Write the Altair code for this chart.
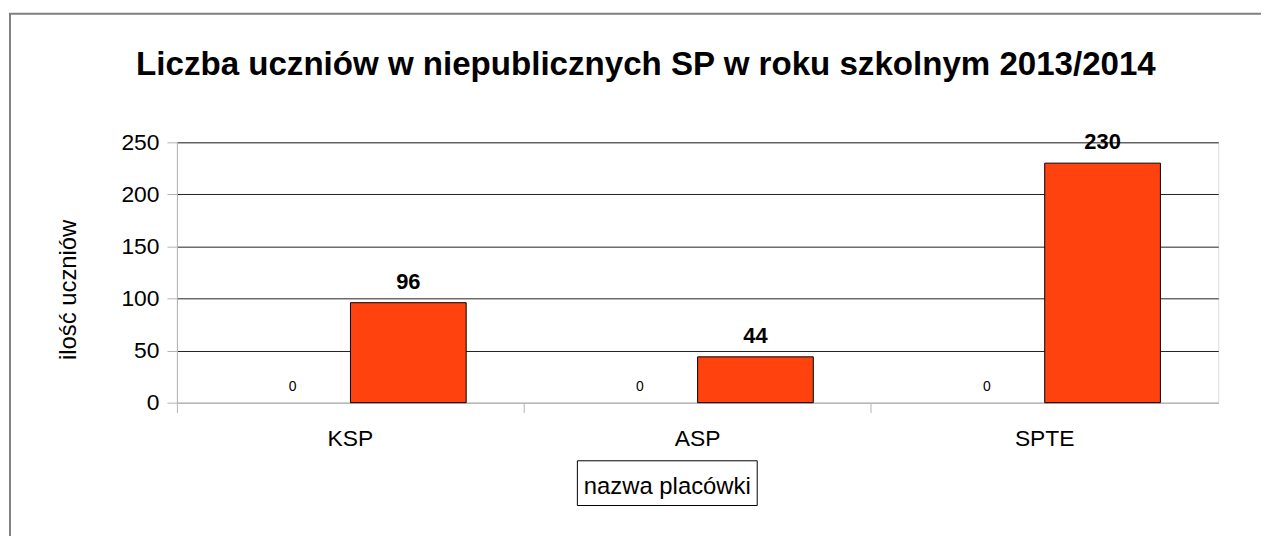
import altair as alt
import pandas as pd

categories = ["KSP", "ASP", "SPTE"]
series_names = ["Kolumna 1", "Kolumna 2"]
series1_values = [0, 0, 0]
series2_values = [96, 44, 230]
y_ticks = [0, 50, 100, 150, 200, 250]

rows = []
for c, v in zip(categories, series1_values):
    rows.append({"placowka": c, "seria": series_names[0], "liczba": v})
for c, v in zip(categories, series2_values):
    rows.append({"placowka": c, "seria": series_names[1], "liczba": v})
df = pd.DataFrame(rows)

FONT = "Liberation Sans"

x_enc = alt.X(
    "placowka:N",
    sort=categories,
    scale=alt.Scale(paddingInner=0, paddingOuter=0),
    axis=alt.Axis(
        title="nazwa placówki",
        labelAngle=0,
        labelFontSize=23,
        labelColor="black",
        labelFont=FONT,
        labelBaseline="alphabetic",
        labelPadding=33,
        tickSize=10,
        tickColor="#b3b3b3",
        domainColor="#b3b3b3",
        bandPosition=0,
        titleFontSize=24,
        titleFont=FONT,
        titleFontWeight="normal",
        titleColor="black",
        titleBaseline="alphabetic",
        titleX=493,
        titleY=91,
        grid=False,
    ),
)
xoff_enc = alt.XOffset(
    "seria:N", sort=series_names, scale=alt.Scale(paddingOuter=0.5, paddingInner=0)
)
y_enc = alt.Y(
    "liczba:Q",
    scale=alt.Scale(domain=[0, 250], nice=False),
    axis=alt.Axis(
        title="ilość uczniów",
        values=y_ticks,
        labelFontSize=23,
        labelColor="black",
        labelFont=FONT,
        labelPadding=8,
        tickSize=10,
        tickColor="#b3b3b3",
        domainColor="#b3b3b3",
        gridColor={"condition": {"test": "datum.value === 0", "value": "#b3b3b3"}, "value": "#222222"},
        titleFontSize=24,
        titleFont=FONT,
        titleFontWeight="normal",
        titleColor="black",
        titleX=-97,
        titleY=148,
    ),
)

base = alt.Chart(df)

bars = base.mark_bar(color="#ff420e", stroke="black", strokeWidth=1).encode(
    x=x_enc,
    xOffset=xoff_enc,
    y=y_enc,
    strokeOpacity=alt.condition(alt.datum.liczba == 0, alt.value(0), alt.value(1)),
)

labels_zero = base.transform_filter(
    alt.datum.seria == series_names[0]
).mark_text(baseline="alphabetic", dy=-12, fontSize=14, font=FONT, color="black").encode(
    x=alt.X("placowka:N", sort=categories),
    xOffset=alt.XOffset("seria:N", sort=series_names),
    y="liczba:Q",
    text="liczba:Q",
)

labels_main = base.transform_filter(
    alt.datum.seria == series_names[1]
).mark_text(baseline="alphabetic", dy=-14, fontSize=22, fontWeight="bold", font=FONT, color="black").encode(
    x=alt.X("placowka:N", sort=categories),
    xOffset=alt.XOffset("seria:N", sort=series_names),
    y="liczba:Q",
    text="liczba:Q",
)

# outer chart frame and axis-title box (decoration)
frame = alt.Chart(pd.DataFrame({"a": [0]})).mark_rect(
    fill=None, stroke="#808080", strokeWidth=2
).encode(
    x=alt.value(-168), x2=alt.value(1200), y=alt.value(-129.5), y2=alt.value(600)
)
title_box = alt.Chart(pd.DataFrame({"a": [0]})).mark_rect(
    fill=None, stroke="black", strokeWidth=1
).encode(
    x=alt.value(403), x2=alt.value(584), y=alt.value(320.5), y2=alt.value(365.5)
)

chart = alt.layer(frame, title_box, bars, labels_zero, labels_main).properties(
    width=1048,
    height=262,
    title=alt.TitleParams(
        "Liczba uczniów w niepublicznych SP w roku szkolnym 2013/2014",
        fontSize=33.3,
        font=FONT,
        fontWeight="bold",
        color="black",
        anchor="middle",
        baseline="alphabetic",
        dx=-52,
        offset=-96,
    ),
    autosize=alt.AutoSizeParams(type="none"),
    padding={"left": 170, "top": 133.5, "right": 43, "bottom": 132},
).configure_view(stroke="#b3b3b3", strokeWidth=1).configure(background="white")

chart.save("out.html", embed_options={"renderer": "svg", "actions": False})
